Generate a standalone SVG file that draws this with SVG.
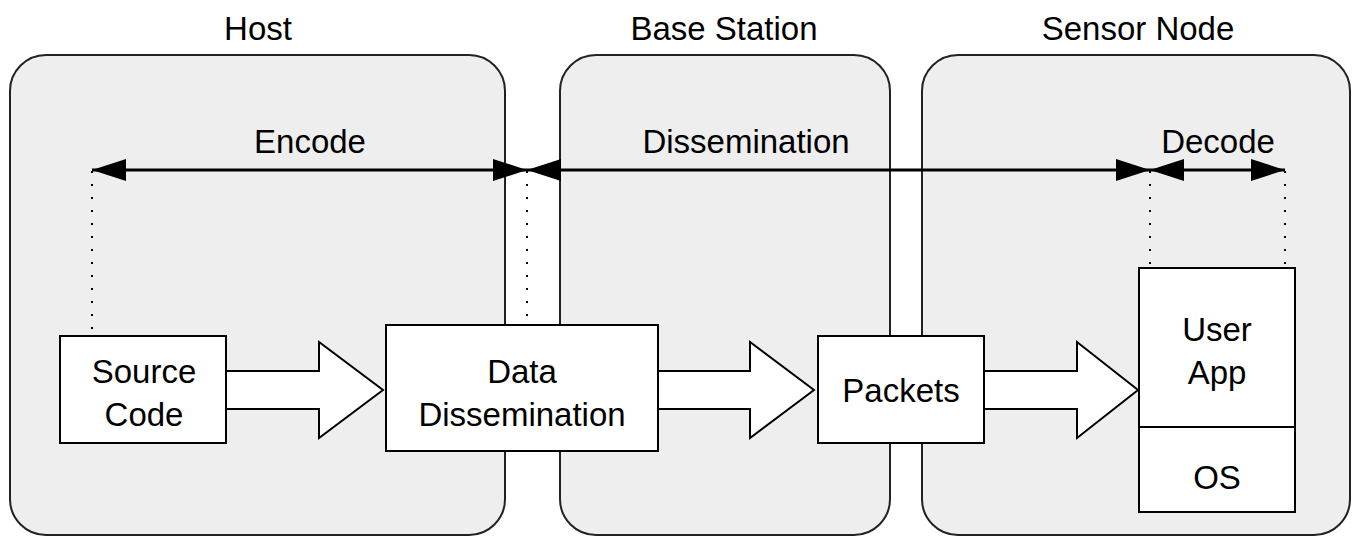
<svg xmlns="http://www.w3.org/2000/svg" width="1356" height="541" viewBox="0 0 1356 541">
<defs>
<style>
text{font-family:"Liberation Sans",Arial,sans-serif;font-size:33px;fill:#000;text-anchor:middle}
.panel{fill:#eeeeee;stroke:#222;stroke-width:2}
.box{fill:#fff;stroke:#000;stroke-width:2}
.dot{stroke:#000;stroke-width:2;stroke-dasharray:2 11;fill:none}
.dim{stroke:#000;stroke-width:3;fill:none}
.blk{fill:#fff;stroke:#000;stroke-width:2;stroke-linejoin:miter}
</style>
<marker id="ah" viewBox="0 0 34 22" refX="34" refY="11" markerWidth="34" markerHeight="22" markerUnits="userSpaceOnUse" orient="auto-start-reverse">
<path d="M0,0 L34,11 L0,22 Z" fill="#000"/>
</marker>
</defs>
<rect width="1356" height="541" fill="#fff"/>
<g id="host">
<rect class="panel" x="10" y="55" width="495" height="480" rx="36" ry="36"/>
<text x="258" y="40">Host</text>
</g>
<g id="base-station">
<rect class="panel" x="560" y="55" width="330" height="480" rx="36" ry="36"/>
<text x="724" y="40">Base Station</text>
</g>
<g id="sensor-node">
<rect class="panel" x="922" y="55" width="428" height="480" rx="36" ry="36"/>
<text x="1138" y="40">Sensor Node</text>
</g>
<g id="connectors">
<line class="dot" x1="92" y1="171" x2="92" y2="336"/>
<line class="dot" x1="527" y1="171" x2="527" y2="325"/>
<line class="dot" x1="1150" y1="171" x2="1150" y2="268"/>
<line class="dot" x1="1285" y1="171" x2="1285" y2="268"/>
<line class="dim" x1="92" y1="170" x2="527" y2="170" marker-start="url(#ah)" marker-end="url(#ah)"/>
<line class="dim" x1="527" y1="170" x2="1150" y2="170" marker-start="url(#ah)" marker-end="url(#ah)"/>
<line class="dim" x1="1150" y1="170" x2="1285" y2="170" marker-start="url(#ah)" marker-end="url(#ah)"/>
<text x="310" y="153">Encode</text>
<text x="746" y="153">Dissemination</text>
<text x="1218" y="153">Decode</text>
<path class="blk" d="M227,371 H319 V342 L383,390 L319,438 V409 H227"/>
<path class="blk" d="M659,371 H750 V342 L814,390 L750,438 V409 H659"/>
<path class="blk" d="M985,371 H1077 V342 L1138,390 L1077,438 V409 H985"/>
</g>
<g id="source-code">
<rect class="box" x="60" y="336" width="166" height="107"/>
<text x="144" y="383">Source</text>
<text x="144" y="426">Code</text>
</g>
<g id="data-dissemination">
<rect class="box" x="386" y="325" width="272" height="126"/>
<text x="522" y="383">Data</text>
<text x="522" y="426">Dissemination</text>
</g>
<g id="packets">
<rect class="box" x="818" y="336" width="166" height="107"/>
<text x="901" y="402">Packets</text>
</g>
<g id="user-app-os">
<rect class="box" x="1139" y="268" width="156" height="244"/>
<line x1="1139" y1="427" x2="1295" y2="427" stroke="#000" stroke-width="2"/>
<text x="1217" y="341">User</text>
<text x="1217" y="384">App</text>
<text x="1217" y="489">OS</text>
</g>
</svg>
